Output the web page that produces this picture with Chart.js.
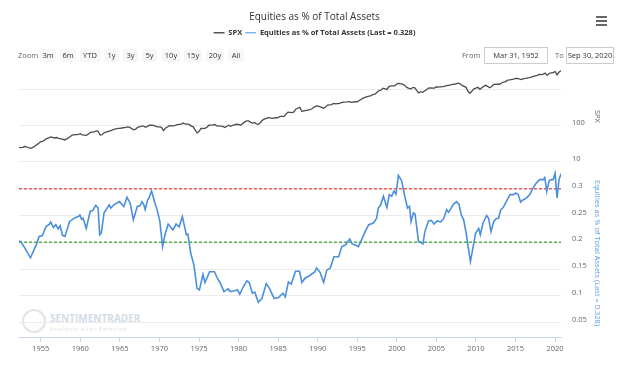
<!DOCTYPE html>
<html><head><meta charset="utf-8">
<script src="https://cdn.jsdelivr.net/npm/chart.js@4.4.1/dist/chart.umd.min.js"></script>
<style>
html,body{margin:0;padding:0;background:#fff;}
#wrap{position:relative;width:624px;height:369px;overflow:hidden;font-family:'Open Sans',sans-serif;}
#c{position:absolute;left:0;top:0;z-index:2;}
.ui{position:absolute;font-size:7.5px;color:#333;white-space:nowrap;z-index:3;line-height:13px;}
.btn{background:#f7f7f7;border-radius:2px;text-align:center;height:13px;}
.lbl{color:#666;}
.box{border:1px solid #ccc;height:15px;line-height:15px;text-align:center;background:#fff;}
.ham{position:absolute;left:596px;width:11px;height:2px;background:#666;z-index:3;}
.wm{position:absolute;z-index:1;white-space:nowrap;}
</style></head><body>
<div id="wrap">
<div class="wm" style="left:22px;top:309px;width:20px;height:20px;border:2px solid #dfe5ec;border-radius:50%;"></div>
<div class="wm" style="left:50px;top:311px;font-size:10px;font-weight:bold;color:#d3dce7;">SENTIMENTRADER</div>
<div class="wm" style="left:50px;top:325px;font-size:5.5px;letter-spacing:1px;color:#d9e0e8;">Analysis over Emotion</div>
<canvas id="c" width="624" height="369"></canvas>
<div class="ham" style="top:16px"></div><div class="ham" style="top:20px"></div><div class="ham" style="top:24px"></div>
<div class="ui lbl" style="left:18px;top:49px;">Zoom</div>
<div class="ui btn" style="left:40px;top:49px;width:16px;">3m</div>
<div class="ui btn" style="left:60px;top:49px;width:16px;">6m</div>
<div class="ui btn" style="left:80px;top:49px;width:20px;">YTD</div>
<div class="ui btn" style="left:104px;top:49px;width:15px;">1y</div>
<div class="ui btn" style="left:123px;top:49px;width:15px;">3y</div>
<div class="ui btn" style="left:142px;top:49px;width:15px;">5y</div>
<div class="ui btn" style="left:162px;top:49px;width:18px;">10y</div>
<div class="ui btn" style="left:184px;top:49px;width:18px;">15y</div>
<div class="ui btn" style="left:206px;top:49px;width:18px;">20y</div>
<div class="ui btn" style="left:228px;top:49px;width:16px;">All</div>
<div class="ui lbl" style="left:462px;top:49px;">From</div>
<div class="ui box" style="left:484px;top:47px;width:62px;">Mar 31, 1952</div>
<div class="ui lbl" style="left:555px;top:49px;">To</div>
<div class="ui box" style="left:566px;top:47px;width:46px;">Sep 30, 2020</div>
</div>
<script>
// ---- data ----
const spxYears = [1952.25,1952.75,1953.0,1953.25,1953.75,1954.0,1954.25,1954.75,1955.0,1955.25,1955.75,1956.0,1956.25,1956.75,1957.0,1957.25,1957.75,1958.0,1958.25,1958.75,1959.0,1959.25,1959.75,1960.0,1960.25,1960.75,1961.0,1961.25,1961.75,1962.0,1962.25,1962.5,1962.75,1963.0,1963.25,1963.75,1964.0,1964.25,1964.75,1965.0,1965.25,1965.75,1966.0,1966.25,1966.75,1967.0,1967.25,1967.75,1968.0,1968.25,1968.75,1969.0,1969.25,1969.75,1970.0,1970.25,1970.5,1970.75,1971.0,1971.25,1971.75,1972.0,1972.25,1972.75,1973.0,1973.25,1973.75,1974.0,1974.25,1974.75,1975.0,1975.25,1975.75,1976.0,1976.25,1976.75,1977.0,1977.25,1977.75,1978.0,1978.25,1978.75,1979.0,1979.25,1979.75,1980.0,1980.25,1980.75,1981.0,1981.25,1981.75,1982.0,1982.25,1982.5,1982.75,1983.0,1983.25,1983.75,1984.0,1984.25,1984.75,1985.0,1985.25,1985.75,1986.0,1986.25,1986.75,1987.0,1987.25,1987.75,1988.0,1988.25,1988.75,1989.0,1989.25,1989.75,1990.0,1990.25,1990.75,1991.0,1991.25,1991.75,1992.0,1992.25,1992.75,1993.0,1993.25,1993.75,1994.0,1994.25,1994.75,1995.0,1995.25,1995.75,1996.0,1996.25,1996.75,1997.0,1997.25,1997.75,1998.0,1998.25,1998.75,1999.0,1999.25,1999.75,2000.0,2000.25,2000.75,2001.0,2001.25,2001.75,2002.0,2002.25,2002.75,2003.0,2003.25,2003.75,2004.0,2004.25,2004.75,2005.0,2005.25,2005.75,2006.0,2006.25,2006.75,2007.0,2007.25,2007.75,2008.0,2008.25,2008.75,2009.0,2009.25,2009.75,2010.0,2010.25,2010.5,2010.75,2011.0,2011.25,2011.75,2012.0,2012.25,2012.75,2013.0,2013.25,2013.75,2014.0,2014.25,2014.75,2015.0,2015.25,2015.75,2016.0,2016.25,2016.75,2017.0,2017.25,2017.75,2018.0,2018.25,2018.5,2018.75,2019.0,2019.25,2019.5,2019.75,2020.0,2020.25,2020.5,2020.75];
const spxValues = [24.4,25.0,26.6,25.3,23.3,24.8,26.9,32.3,36.0,36.6,43.7,45.5,48.5,45.4,46.7,44.1,42.4,40.0,42.1,50.1,55.2,55.4,56.9,59.9,55.3,53.5,58.1,65.1,66.7,71.6,69.6,54.8,56.3,63.1,66.6,71.7,75.0,78.9,84.2,84.8,86.2,90.0,92.4,89.2,77.0,80.3,90.2,96.7,96.5,90.2,102.7,103.9,101.5,93.1,92.1,89.6,72.7,84.3,92.2,100.3,98.3,102.1,107.2,110.6,118.1,111.5,108.4,97.6,94.0,63.5,68.6,83.4,83.9,90.2,102.8,105.2,107.5,98.4,96.5,95.1,89.2,102.5,96.1,101.6,109.3,107.9,102.1,125.5,135.8,136.0,116.2,122.6,112.0,109.6,120.4,140.6,153.0,166.1,164.9,159.2,166.1,167.2,180.7,182.1,211.3,238.9,231.3,242.2,291.7,321.8,247.1,258.9,271.9,277.7,294.9,349.2,353.4,339.9,306.1,330.2,375.2,387.9,417.1,403.7,417.8,435.7,451.7,458.9,466.5,445.8,462.7,459.3,500.7,584.4,615.9,645.5,687.3,740.7,757.1,947.3,970.4,1101.8,1017.0,1229.2,1286.4,1282.7,1469.3,1498.6,1436.5,1320.3,1160.3,1040.9,1148.1,1147.4,815.3,879.8,848.2,996.0,1111.9,1126.2,1114.6,1211.9,1180.6,1228.8,1248.3,1294.8,1335.9,1418.3,1420.9,1526.8,1468.4,1322.7,1166.4,903.3,797.9,1057.1,1115.1,1169.4,1030.7,1141.2,1257.6,1325.8,1131.4,1257.6,1408.5,1440.7,1426.2,1569.2,1681.6,1848.4,1872.3,1972.3,2058.9,2067.9,1920.0,2043.9,2059.7,2168.3,2238.8,2362.7,2519.4,2673.6,2640.9,2718.4,2914.0,2506.9,2834.4,2941.8,2976.7,3230.8,2584.6,3100.3,3363.0];

const eqYears = [1952.25,1952.5,1953.0,1953.7,1954.5,1954.8,1955.2,1955.65,1956.1,1956.25,1956.6,1956.9,1957.2,1957.45,1957.75,1958.05,1958.65,1959.35,1959.75,1959.95,1960.15,1960.35,1960.75,1961.25,1961.55,1961.95,1962.25,1962.45,1962.65,1963.0,1963.65,1963.85,1964.25,1964.95,1965.5,1965.9,1966.3,1966.7,1967.2,1967.55,1967.8,1968.0,1968.2,1968.5,1968.7,1969.0,1969.45,1969.7,1970.05,1970.4,1970.7,1971.1,1971.7,1972.1,1972.5,1972.9,1973.4,1973.6,1973.95,1974.35,1974.75,1975.05,1975.5,1975.75,1976.35,1976.95,1977.35,1977.65,1978.15,1978.7,1978.95,1979.35,1979.85,1980.15,1980.6,1981.05,1981.35,1981.75,1982.05,1982.5,1982.95,1983.5,1983.9,1984.5,1985.05,1985.6,1985.9,1986.3,1986.65,1987.2,1987.7,1988.0,1988.4,1989.0,1989.65,1989.85,1990.3,1990.75,1991.15,1991.6,1992.05,1992.65,1993.05,1993.5,1994.05,1994.35,1994.75,1995.15,1995.55,1996.0,1996.45,1997.05,1997.45,1997.65,1997.95,1998.3,1998.75,1999.05,1999.35,1999.65,1999.9,2000.2,2000.6,2001.05,2001.35,2001.6,2001.8,2002.1,2002.3,2002.75,2003.0,2003.3,2003.55,2004.0,2004.35,2004.7,2005.1,2005.55,2005.95,2006.3,2006.55,2007.15,2007.55,2007.85,2008.15,2008.45,2008.8,2009.1,2009.3,2009.65,2009.95,2010.35,2010.55,2010.9,2011.35,2011.6,2011.9,2012.25,2012.55,2012.85,2013.15,2013.45,2013.8,2014.3,2014.75,2015.05,2015.35,2015.65,2015.95,2016.4,2016.8,2017.25,2017.65,2018.05,2018.5,2018.7,2018.95,2019.25,2019.5,2019.75,2020.0,2020.25,2020.5,2020.75];
const eqValues = [0.203,0.201,0.189,0.171,0.198,0.211,0.212,0.229,0.234,0.238,0.228,0.233,0.225,0.231,0.213,0.211,0.239,0.246,0.248,0.251,0.243,0.245,0.226,0.258,0.259,0.269,0.264,0.214,0.217,0.255,0.27,0.264,0.27,0.276,0.267,0.284,0.273,0.242,0.267,0.268,0.276,0.271,0.261,0.279,0.283,0.296,0.272,0.261,0.239,0.192,0.214,0.234,0.223,0.234,0.229,0.248,0.214,0.215,0.18,0.158,0.114,0.111,0.14,0.125,0.145,0.145,0.132,0.125,0.108,0.113,0.108,0.109,0.111,0.103,0.117,0.128,0.125,0.105,0.107,0.088,0.095,0.123,0.114,0.095,0.097,0.105,0.098,0.126,0.122,0.146,0.146,0.125,0.133,0.138,0.145,0.152,0.144,0.125,0.148,0.152,0.173,0.173,0.192,0.195,0.206,0.197,0.195,0.192,0.205,0.22,0.233,0.236,0.245,0.264,0.269,0.286,0.265,0.289,0.286,0.296,0.29,0.325,0.315,0.283,0.264,0.267,0.239,0.255,0.253,0.201,0.2,0.197,0.22,0.24,0.241,0.234,0.24,0.238,0.245,0.261,0.256,0.271,0.276,0.271,0.251,0.242,0.214,0.183,0.164,0.192,0.217,0.226,0.214,0.236,0.25,0.245,0.22,0.239,0.244,0.245,0.261,0.265,0.275,0.289,0.289,0.292,0.289,0.275,0.279,0.283,0.289,0.302,0.311,0.317,0.317,0.321,0.295,0.315,0.317,0.317,0.329,0.283,0.317,0.328];

const bandLevels = [0.3, 0.2];
const yearTicks = [1955,1960,1965,1970,1975,1980,1985,1990,1995,2000,2005,2010,2015,2020];
const spxTicks = [10,100,1000];
const eqTicks = [0.05,0.1,0.15,0.2,0.25,0.3];
const xMin = 1952.25, xMax = 2020.75;

const spxPoints = spxYears.map((x,i)=>({x, y: spxValues[i]}));
const eqPoints = eqYears.map((x,i)=>({x, y: eqValues[i]}));
const bandColors = ['#ee5a5a','#5aad4a'];
const bandSets = bandLevels.map((v,i)=>({
  label:'band'+i, data:[{x:xMin,y:v},{x:xMax,y:v}], yAxisID:'yEq',
  borderColor:bandColors[i], borderDash:[3,2], borderWidth:1.5, pointRadius:0, fill:false
}));

const FONT = "'Open Sans', sans-serif";
const legendSpacer = {
  id:'legendSpacer',
  beforeInit(chart){
    const orig = chart.legend.fit;
    chart.legend.fit = function(){ orig.call(this); this.height = 37.6; };
  }
};

new Chart(document.getElementById('c').getContext('2d'), {
  type:'line',
  data:{ datasets:[
    {label:'SPX', data:spxPoints, yAxisID:'ySpx', borderColor:'#4d4d4d', backgroundColor:'#555555', borderWidth:1.3, pointRadius:0, fill:false},
    {label:'Equities as % of Total Assets (Last = 0.328)', data:eqPoints, yAxisID:'yEq', borderColor:'#4a8fdc', backgroundColor:'#7cb5ec', borderWidth:1.6, pointRadius:0, fill:false},
    ...bandSets
  ]},
  plugins:[legendSpacer],
  options:{
    responsive:false, animation:false, devicePixelRatio:1,
    layout:{padding:{left:19,right:14,top:0,bottom:0}},
    plugins:{
      title:{display:true, text:'Equities as % of Total Assets', color:'#333', font:{family:FONT,size:10,weight:'normal'}, padding:{top:11,bottom:3}},
      legend:{display:true, labels:{
        filter:(it)=>it.datasetIndex<2,
        generateLabels:(chart)=>Chart.defaults.plugins.legend.labels.generateLabels(chart).map(l=>Object.assign(l,{lineWidth:0, strokeStyle:'rgba(0,0,0,0)'})),
        boxWidth:11, boxHeight:1.5, color:'#333', font:{family:FONT,size:7.5,weight:'bold'}, padding:3}},
      tooltip:{enabled:false}
    },
    scales:{
      x:{type:'linear', min:xMin, max:xMax,
        afterBuildTicks:(a)=>{a.ticks = yearTicks.map(v=>({value:v}));},
        afterFit:(a)=>{a.height = 32;},
        ticks:{callback:(v)=>String(v), color:'#666', font:{family:FONT,size:7.5}, padding:2, maxRotation:0, autoSkip:false},
        grid:{drawOnChartArea:false, drawTicks:true, tickLength:5, color:'#ccd6eb'},
        border:{display:true, color:'#ccd6eb'}},
      ySpx:{type:'logarithmic', position:'right', stack:'panes', stackWeight:105, min:6.16, max:5346,
        afterBuildTicks:(a)=>{a.ticks = spxTicks.map(v=>({value:v}));},
        afterFit:(a)=>{a.width = 49;},
        ticks:{callback:(v)=> v===1000 ? '' : String(v), color:'#666', font:{family:FONT,size:7.5}, padding:11, labelOffset:-3},
        grid:{color:'#ebebeb', drawTicks:false},
        border:{display:false},
        title:{display:true, text:'SPX', color:'#666', font:{family:FONT,size:7.5}, padding:{top:8,bottom:0}}},
      yEq:{type:'linear', position:'right', stack:'panes', stackWeight:167, min:0.0232, max:0.3366,
        afterBuildTicks:(a)=>{a.ticks = eqTicks.map(v=>({value:v}));},
        afterFit:(a)=>{a.width = 49;},
        ticks:{callback:(v)=>String(+v.toFixed(2)), color:'#666', font:{family:FONT,size:7.5}, padding:11, labelOffset:-3},
        grid:{color:'#ebebeb', drawTicks:false},
        border:{display:false},
        title:{display:true, text:'Equities as % of Total Assets (Last = 0.328)', color:'#5b9be0', font:{family:FONT,size:7.5}, padding:{top:8,bottom:0}}}
    }
  }
});
</script>
</body></html>
